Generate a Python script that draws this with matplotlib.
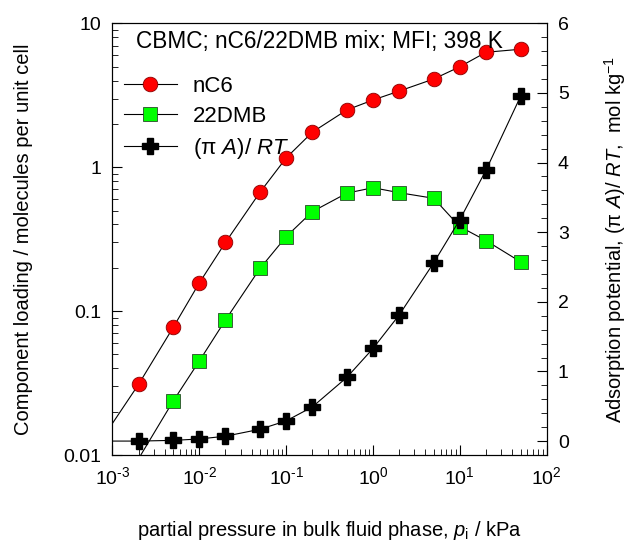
import math
import matplotlib
matplotlib.use("Agg")
import matplotlib.pyplot as plt
from matplotlib.ticker import LogLocator, FixedLocator, MultipleLocator, NullFormatter, FuncFormatter
from matplotlib.lines import Line2D

plt.rcParams['font.family'] = ['Liberation Sans', 'DejaVu Sans']
plt.rcParams['mathtext.fontset'] = 'custom'
plt.rcParams['mathtext.rm'] = 'Liberation Sans'
plt.rcParams['mathtext.it'] = 'Liberation Sans:italic'
plt.rcParams['mathtext.default'] = 'regular'

# CBMC data, nC6/22DMB mixture in MFI at 398 K
pressure = [2e-3, 5e-3, 1e-2, 2e-2, 5e-2, 0.1, 0.2, 0.5, 1, 2, 5, 10, 20, 50]
nC6_loading = [0.031, 0.077, 0.157, 0.30, 0.67, 1.16, 1.75, 2.50, 2.93, 3.38, 4.10, 4.99, 6.29, 6.60]
pressure_22dmb = [5e-3, 1e-2, 2e-2, 5e-2, 0.1, 0.2, 0.5, 1, 2, 5, 10, 20, 50]
dmb_loading = [0.0237, 0.045, 0.0867, 0.198, 0.329, 0.491, 0.66, 0.72, 0.665, 0.608, 0.386, 0.309, 0.220]
potential = [0.0, 0.01, 0.03, 0.07, 0.17, 0.29, 0.49, 0.915, 1.33, 1.81, 2.56, 3.18, 3.89, 4.95]

# low-pressure (Henry regime) ends of the fitted curves
nC6_henry_p, nC6_henry_q = 1e-3, 0.0166
dmb_henry_p, dmb_henry_q = 1e-3, 0.0047
potential_henry_p, potential_henry_q = 1e-3, 0.0

fig = plt.figure(figsize=(6.27, 5.44), dpi=100)
ax = fig.add_axes([0.1794, 0.1636, 0.8719 - 0.1794, 0.9572 - 0.1636])
ax2 = ax.twinx()

lw = 0.8
ax.plot([nC6_henry_p] + pressure, [nC6_henry_q] + nC6_loading, color='black', lw=lw, zorder=2)
ax.plot([dmb_henry_p] + pressure_22dmb, [dmb_henry_q] + dmb_loading, color='black', lw=lw, zorder=2)
ax.plot(pressure, nC6_loading, ls='none', marker='o', ms=10.5, mfc='#ff0000', mec='#8b0000', mew=0.6, zorder=3)
ax.plot(pressure_22dmb, dmb_loading, ls='none', marker='s', ms=9.5, mfc='#00ff00', mec='#2a4a2a', mew=0.6, zorder=3)

ax2.plot([potential_henry_p] + pressure, [potential_henry_q] + potential, color='black', lw=lw, zorder=2)
ax2.plot(pressure, potential, ls='none', marker='P', ms=11, mfc='black', mec='black', zorder=3)

ax.set_xscale('log')
ax.set_yscale('log')
ax.set_xlim(1e-3, 1e2)
ax.set_ylim(0.01, 10)
ax2.set_ylim(-0.2, 6)


def pow_fmt(v, pos):
    e = int(round(math.log10(v)))
    return r'$10^{%s}$' % (('\u2010%d' % -e) if e < 0 else str(e))


ax.xaxis.set_major_locator(LogLocator(base=10, numticks=10))
ax.xaxis.set_minor_locator(LogLocator(base=10, subs=range(2, 10), numticks=20))
ax.xaxis.set_major_formatter(FuncFormatter(pow_fmt))
ax.xaxis.set_minor_formatter(NullFormatter())
ax.yaxis.set_major_locator(FixedLocator([0.01, 0.1, 1, 10]))
ax.yaxis.set_minor_locator(LogLocator(base=10, subs=range(2, 10), numticks=20))
ax.yaxis.set_major_formatter(FuncFormatter(lambda v, p: {0.01: '0.01', 0.1: '0.1', 1: '1', 10: '10'}.get(round(v, 3), '')))
ax.yaxis.set_minor_formatter(NullFormatter())

ax2.yaxis.set_major_locator(FixedLocator([0, 1, 2, 3, 4, 5, 6]))
ax2.yaxis.set_minor_locator(MultipleLocator(0.2))

ax.tick_params(which='both', direction='in', top=False, right=False, labelsize=14, pad=8)
ax.tick_params(which='major', length=7)
ax.tick_params(which='minor', length=4.5)
ax2.tick_params(which='both', direction='in', labelsize=14, pad=8)
ax2.tick_params(which='major', length=7)
ax2.tick_params(which='minor', length=4.5)

ax.set_xlabel(r'partial pressure in bulk fluid phase, $\mathit{p}_\mathrm{i}$ / kPa', fontsize=14.5, labelpad=22)
ax.set_ylabel('Component loading / molecules per unit cell', fontsize=14.5, labelpad=22)
ax2.set_ylabel(r'Adsorption potential, (π $\mathit{A}$)/ $\mathit{RT}$,  mol kg$^{-1}$', fontsize=14.5, labelpad=24)

ax.text(0.055, 0.985, 'CBMC; nC6/22DMB mix; MFI; 398 K', transform=ax.transAxes,
        fontsize=16.3, ha='left', va='top')

handles = [
    Line2D([], [], color='black', lw=lw, marker='o', ms=10.5, mfc='#ff0000', mec='#8b0000', mew=0.6),
    Line2D([], [], color='black', lw=lw, marker='s', ms=9.5, mfc='#00ff00', mec='#2a4a2a', mew=0.6),
    Line2D([], [], color='black', lw=lw, marker='P', ms=11, mfc='black', mec='black'),
]
labels = ['nC6', '22DMB', r'(π $\mathit{A}$)/ $\mathit{RT}$']
ax2.legend(handles, labels, loc='upper left', bbox_to_anchor=(-0.01, 0.915), frameon=False,
           fontsize=16, handlelength=2.4, handletextpad=0.7, labelspacing=0.42, borderaxespad=0.3)

fig.savefig('out.png', dpi=100)
